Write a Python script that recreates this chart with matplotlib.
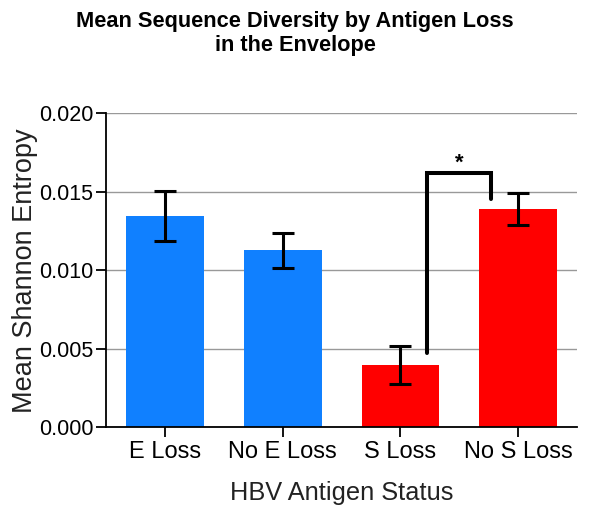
import matplotlib
matplotlib.use("Agg")
import matplotlib.pyplot as plt

categories = ["E Loss", "No E Loss", "S Loss", "No S Loss"]
means = [0.01346, 0.01127, 0.00397, 0.01389]
errors = [0.00159, 0.00112, 0.00122, 0.00103]
colors = ["#1080FF", "#1080FF", "#FF0000", "#FF0000"]
yticks = [0.000, 0.005, 0.010, 0.015, 0.020]
ytick_labels = ["0.000", "0.005", "0.010", "0.015", "0.020"]

# significance bracket: (left x, right x, top y, left bottom y, right bottom y)
bracket_x = [2.226, 2.768]
bracket_y = [0.00473, 0.01622, 0.01452]

plt.rcParams['font.family'] = ['Liberation Sans', 'DejaVu Sans']

fig = plt.figure(figsize=(5.9, 5.07), dpi=100)
ax = fig.add_axes([0.1797, 0.1572, 0.978 - 0.1797, 0.7765 - 0.1572])

x = list(range(len(categories)))
ax.set_axisbelow(True)
ax.yaxis.grid(True, color="#999999", linewidth=1.0)
ax.bar(x, means, width=0.66, color=colors, zorder=2)
ax.errorbar(x, means, yerr=errors, fmt="none", ecolor="black",
            elinewidth=2.2, capsize=8, capthick=2.2, zorder=3)

ax.plot([bracket_x[0], bracket_x[0], bracket_x[1], bracket_x[1]],
        [bracket_y[0], bracket_y[1], bracket_y[1], bracket_y[2]],
        color="black", linewidth=2.9, solid_capstyle="round",
        solid_joinstyle="miter", zorder=4)
ax.text((bracket_x[0] + bracket_x[1]) / 2, bracket_y[1] + 0.00062, "*",
        ha="center", va="center", fontsize=16, fontweight="bold")

ax.set_xlim(-0.5, 3.5)
ax.set_ylim(0, 0.020)
ax.set_xticks(x)
ax.set_xticklabels(categories, fontsize=17)
ax.set_yticks(yticks)
ax.set_yticklabels(ytick_labels, fontsize=15.5)
ax.tick_params(axis="both", direction="out", length=7, width=1.3, pad=2, colors="black")
ax.tick_params(axis="x", pad=3)
for s in ["top", "right"]:
    ax.spines[s].set_visible(False)
for s in ["left", "bottom"]:
    ax.spines[s].set_linewidth(1.3)

ax.set_xlabel("HBV Antigen Status", fontsize=18.3, color="#222222", labelpad=13)
ax.set_ylabel("Mean Shannon Entropy", fontsize=19.5, color="#222222", labelpad=1)

fig.suptitle("Mean Sequence Diversity by Antigen Loss\nin the Envelope",
             x=0.5, y=0.978, fontsize=15.7, fontweight="bold", linespacing=1.15)

fig.savefig("out.png", dpi=100)
